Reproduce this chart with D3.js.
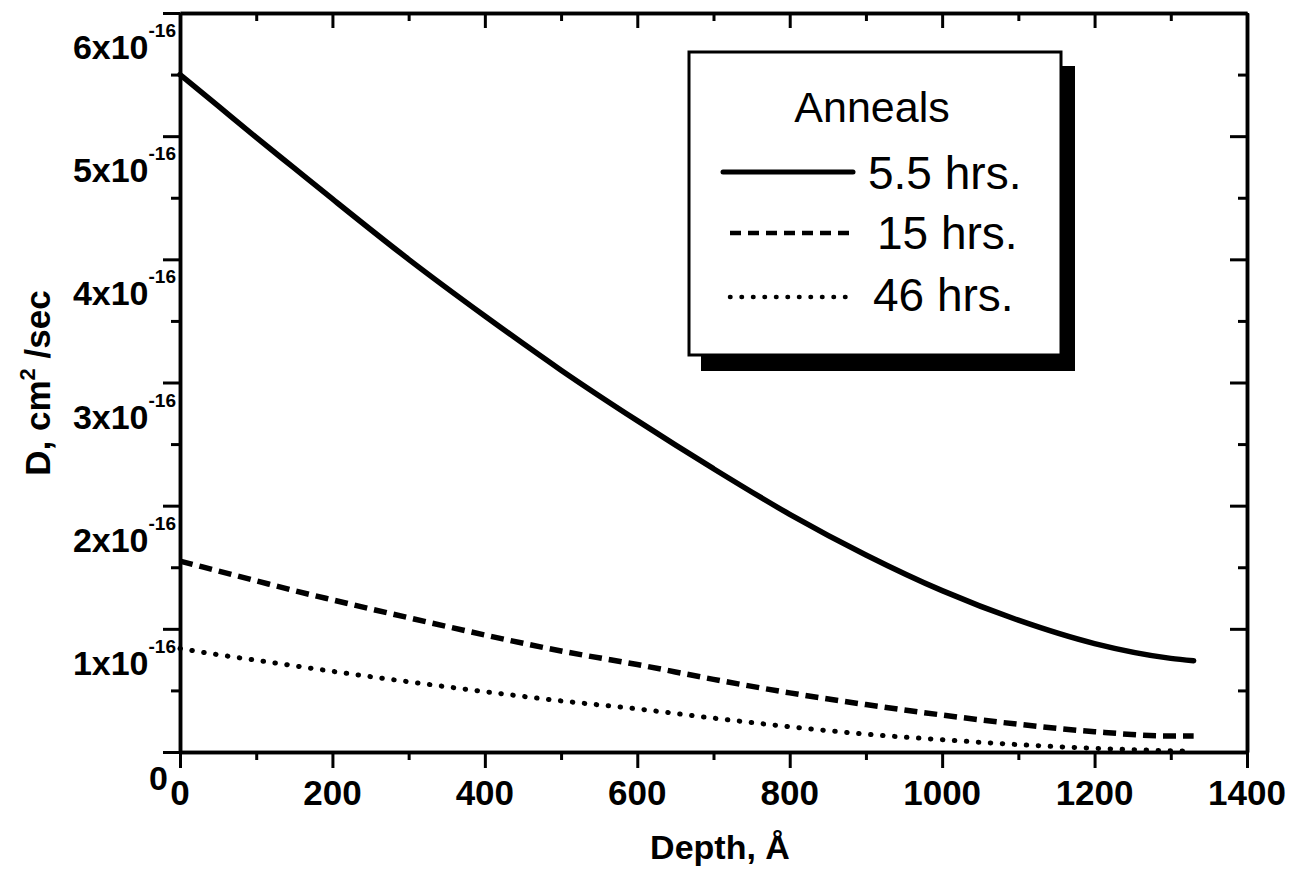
<!DOCTYPE html>
<html>
<head>
<meta charset="utf-8">
<script src="https://cdn.jsdelivr.net/npm/d3@7"></script>
<style>
  html, body { margin: 0; padding: 0; background: #fff; }
  svg { display: block; }
  text { font-family: "Liberation Sans", Arial, sans-serif; fill: #000; }
</style>
</head>
<body>
<svg id="chart" width="1305" height="869"></svg>
<script>
// ---- data ----
const depth = [0, 50, 100, 150, 200, 300, 400, 500, 600, 700, 800, 900, 1000, 1100, 1200, 1300, 1330];
const anneal55 = [5.50, 5.245, 4.99, 4.74, 4.49, 4.00, 3.54, 3.10, 2.69, 2.30, 1.93, 1.60, 1.31, 1.07, 0.88, 0.76, 0.74];
const anneal15 = [1.55, 1.47, 1.39, 1.31, 1.235, 1.09, 0.95, 0.82, 0.71, 0.59, 0.48, 0.385, 0.30, 0.225, 0.165, 0.13, 0.13];
const anneal46 = [0.84, 0.79, 0.745, 0.70, 0.655, 0.57, 0.49, 0.415, 0.35, 0.275, 0.205, 0.145, 0.10, 0.06, 0.03, 0.01, 0.005];
const seriesNames = ["5.5 hrs.", "15 hrs.", "46 hrs."];
const xTicks = [0, 200, 400, 600, 800, 1000, 1200, 1400];
const yTicks = [0, 1, 2, 3, 4, 5, 6];
const yTickLabels = ["0", "1x10", "2x10", "3x10", "4x10", "5x10", "6x10"];
const yTickExp = "-16";
const legendTitle = "Anneals";
const xTitle = "Depth, Å";

// ---- layout ----
const svg = d3.select("#chart");
const L = 180, R = 1247, T = 13, B = 752;
const x = d3.scaleLinear().domain([0, 1400]).range([L, R]);
const y = d3.scaleLinear().domain([0, 6]).range([B, T]);

const xMinor = d3.range(100, 1400, 200);
const yMinor = d3.range(0.5, 6, 1);
const AX_W = 3.5;

function styleAxis(g) {
  g.selectAll("path.domain").attr("stroke", "#000").attr("stroke-width", AX_W);
  g.selectAll(".tick line").attr("stroke", "#000").attr("stroke-width", 3);
  g.selectAll(".tick text").remove();
}

// bottom (outward)
svg.append("g").attr("transform", `translate(0,${B})`)
  .call(d3.axisBottom(x).tickValues(xTicks).tickSizeInner(16).tickSizeOuter(0)).call(styleAxis);
svg.append("g").attr("transform", `translate(0,${B})`)
  .call(d3.axisBottom(x).tickValues(xMinor).tickSizeInner(8).tickSizeOuter(0)).call(styleAxis);
// top (inward)
svg.append("g").attr("transform", `translate(0,${T})`)
  .call(d3.axisTop(x).tickValues(xTicks).tickSizeInner(-15).tickSizeOuter(0)).call(styleAxis);
svg.append("g").attr("transform", `translate(0,${T})`)
  .call(d3.axisTop(x).tickValues(xMinor).tickSizeInner(-8).tickSizeOuter(0)).call(styleAxis);
// left (outward)
svg.append("g").attr("transform", `translate(${L},0)`)
  .call(d3.axisLeft(y).tickValues(yTicks).tickSizeInner(17).tickSizeOuter(0)).call(styleAxis);
svg.append("g").attr("transform", `translate(${L},0)`)
  .call(d3.axisLeft(y).tickValues(yMinor).tickSizeInner(9).tickSizeOuter(0)).call(styleAxis);
// right (inward)
svg.append("g").attr("transform", `translate(${R},0)`)
  .call(d3.axisRight(y).tickValues(yTicks).tickSizeInner(-17).tickSizeOuter(0)).call(styleAxis);
svg.append("g").attr("transform", `translate(${R},0)`)
  .call(d3.axisRight(y).tickValues(yMinor).tickSizeInner(-9).tickSizeOuter(0)).call(styleAxis);

// x tick labels
svg.append("g").selectAll("text").data(xTicks).join("text")
  .attr("x", d => x(d)).attr("y", B + 53)
  .attr("text-anchor", "middle").attr("font-size", 35).attr("font-weight", "bold")
  .text(d => d);

// y tick labels with superscript exponent
const yl = svg.append("g").selectAll("text").data(yTicks).join("text")
  .attr("x", d => d === 0 ? 168 : 176).attr("y", d => y(d) + (d === 0 ? 38 : 46))
  .attr("text-anchor", "end").attr("font-size", 34).attr("font-weight", "bold");
yl.append("tspan").text((d, i) => yTickLabels[i]);
yl.filter(d => d !== 0).append("tspan")
  .attr("dy", -22).attr("font-size", 19).attr("font-weight", "bold").text(yTickExp);

// axis titles
svg.append("text").attr("x", 720).attr("y", 859)
  .attr("text-anchor", "middle").attr("font-size", 34).attr("font-weight", "bold")
  .text(xTitle);
const yt = svg.append("text")
  .attr("transform", "translate(50,383) rotate(-90)")
  .attr("text-anchor", "middle").attr("font-size", 35).attr("font-weight", "bold");
yt.append("tspan").text("D, cm");
yt.append("tspan").attr("dy", -15).attr("font-size", 22).text("2");
yt.append("tspan").attr("dy", 15).text(" /sec");

// ---- curves ----
const styles = [
  { w: 5.5, dash: null, cap: "round" },
  { w: 5.5, dash: "13,7", cap: "butt" },
  { w: 5, dash: "0.5,11.5", cap: "round" }
];
const seriesVals = [anneal55, anneal15, anneal46];
const line = d3.line().x(d => x(d[0])).y(d => y(d[1])).curve(d3.curveMonotoneX);
seriesVals.forEach((vals, i) => {
  svg.append("path")
    .datum(depth.map((d, j) => [d, vals[j]]))
    .attr("d", line)
    .attr("fill", "none").attr("stroke", "#000")
    .attr("stroke-width", styles[i].w)
    .attr("stroke-linecap", styles[i].cap)
    .attr("stroke-dasharray", styles[i].dash);
});

// ---- legend ----
const lg = svg.append("g");
lg.append("rect").attr("x", 701).attr("y", 66).attr("width", 374).attr("height", 305).attr("fill", "#000");
lg.append("rect").attr("x", 689).attr("y", 52).attr("width", 372).attr("height", 303)
  .attr("fill", "#fff").attr("stroke", "#000").attr("stroke-width", 3);
lg.append("text").attr("x", 872).attr("y", 122).attr("text-anchor", "middle")
  .attr("font-size", 43).text(legendTitle);
const legRows = [
  { y: 172, x1: 723, x2: 853, tx: 868, ty: 189 },
  { y: 233, x1: 730, x2: 852, tx: 877, ty: 249 },
  { y: 297, x1: 730, x2: 855, tx: 873, ty: 311 }
];
legRows.forEach((r, i) => {
  lg.append("line").attr("x1", r.x1).attr("x2", r.x2).attr("y1", r.y).attr("y2", r.y)
    .attr("stroke", "#000").attr("stroke-width", i === 0 ? 5 : 4.5)
    .attr("stroke-linecap", styles[i].cap)
    .attr("stroke-dasharray", i === 1 ? "11,7" : (i === 2 ? "0.5,11" : null));
  lg.append("text").attr("x", r.tx).attr("y", r.ty).attr("font-size", 46).text(seriesNames[i]);
});
</script>
</body>
</html>
